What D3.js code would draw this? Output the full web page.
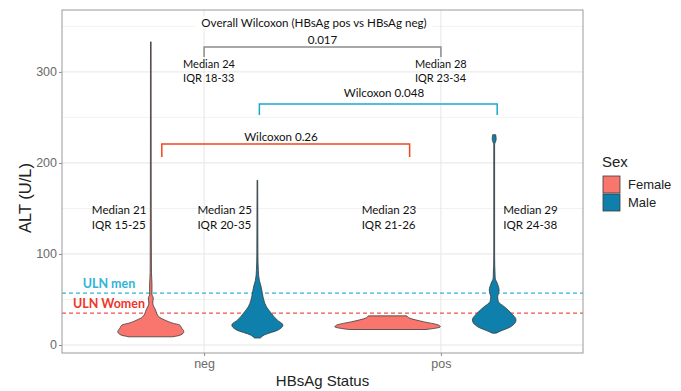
<!DOCTYPE html>
<html><head><meta charset="utf-8">
<script src="https://cdn.jsdelivr.net/npm/d3@7/dist/d3.min.js"></script>
<style>body{margin:0;background:#fff}svg{display:block}</style>
</head><body>
<svg id="c" width="681" height="391"></svg>
<script>
// ---- data ----
const statuses = ["neg", "pos"];
const sexes = ["Female", "Male"];
const yTicks = [0, 100, 200, 300];
const yMinorTicks = [50, 150, 250, 350];
// violin outlines: [ALT value, relative density (1 = full dodge half width)]
const violinFemaleNeg = [[9,0.41],[11,0.56],[14.6,0.62],[18.5,0.58],[22,0.54],[24,0.41],[27.5,0.26],[31,0.15],[38.5,0.088],[46,0.037],[52,0.047],[55,0.022],[67,0.022],[80,0.012],[150,0.008],[333,0.006]];
const violinMaleNeg = [[7.7,0.056],[11,0.13],[16.5,0.39],[22,0.48],[27.5,0.37],[35,0.26],[42,0.17],[49.5,0.12],[57,0.093],[66,0.062],[71,0.037],[82,0.018],[100,0.01],[181,0.006]];
const violinFemalePos = [[17,0.72],[20,0.99],[22,0.95],[25.6,0.67],[29.6,0.41],[32,0.36]];
const violinMalePos = [[13,0.037],[14.6,0.093],[20,0.31],[27.5,0.41],[35,0.32],[42,0.19],[47.6,0.079],[53,0.065],[60,0.093],[68,0.056],[73.6,0.019],[100,0.008],[220,0.008],[226,0.037],[231,0.028]];
const violins = [
  {status:"neg", sex:"Female", pts: violinFemaleNeg},
  {status:"neg", sex:"Male", pts: violinMaleNeg},
  {status:"pos", sex:"Female", pts: violinFemalePos},
  {status:"pos", sex:"Male", pts: violinMalePos}
];
const groupLabels = [
  {status:"neg", sex:"Female", lines:["Median 21","IQR 15-25"]},
  {status:"neg", sex:"Male", lines:["Median 25","IQR 20-35"]},
  {status:"pos", sex:"Female", lines:["Median 23","IQR 21-26"]},
  {status:"pos", sex:"Male", lines:["Median 29","IQR 24-38"]}
];
const overallLabels = [
  {status:"neg", lines:["Median 24","IQR 18-33"]},
  {status:"pos", lines:["Median 28","IQR 23-34"]}
];
const ulnMen = 57, ulnWomen = 35;
const colors = {Female:"#F8766D", Male:"#0F7FAB"};

// ---- layout ----
const svg = d3.select("#c");
const L = 62, R = 583, T = 10, B = 353;
const x = d3.scalePoint().domain(statuses).range([L, R]).padding(0.6);
const y = d3.scaleLinear().domain([-8.8, 368]).range([B, T]);
const dodge = d3.scaleOrdinal().domain(sexes).range([-0.225, 0.225]);
const w = d3.scaleLinear().domain([0, 1]).range([0, x.step() * 0.225]);
const cx = (s, sex) => x(s) + dodge(sex) * x.step();

// grid
const g = svg.append("g");
g.selectAll(".mn").data(yMinorTicks).join("line")
  .attr("x1", L).attr("x2", R).attr("y1", d => y(d)).attr("y2", d => y(d))
  .attr("stroke", "#f2f2f2").attr("stroke-width", 1);
g.selectAll(".mj").data(yTicks).join("line")
  .attr("x1", L).attr("x2", R).attr("y1", d => y(d)).attr("y2", d => y(d))
  .attr("stroke", "#e6e6e6").attr("stroke-width", 1);
g.selectAll(".vx").data(statuses).join("line")
  .attr("x1", d => x(d)).attr("x2", d => x(d)).attr("y1", T).attr("y2", B)
  .attr("stroke", "#e6e6e6").attr("stroke-width", 1);

// axes
const yAxis = svg.append("g").attr("transform", `translate(${L},0)`)
  .call(d3.axisLeft(y).tickValues(yTicks).tickSize(3).tickPadding(2));
const xAxis = svg.append("g").attr("transform", `translate(0,${B})`)
  .call(d3.axisBottom(x).tickSize(3).tickPadding(3));
[yAxis, xAxis].forEach(a => {
  a.select(".domain").remove();
  a.selectAll(".tick line").attr("stroke", "#8a8a8a");
  a.selectAll(".tick text").attr("fill", "#6a6a6a").attr("font-size", 12.5)
    .attr("font-family", "Liberation Sans, Arial, sans-serif");
});

// ULN lines
svg.append("line").attr("x1", L).attr("x2", R).attr("y1", y(ulnMen)).attr("y2", y(ulnMen))
  .attr("stroke", "#2FB5D6").attr("stroke-width", 1.2).attr("stroke-dasharray", "4,3");
svg.append("line").attr("x1", L).attr("x2", R).attr("y1", y(ulnWomen)).attr("y2", y(ulnWomen))
  .attr("stroke", "#F0524A").attr("stroke-width", 1.2).attr("stroke-dasharray", "4,3");

// violins
const area = d3.area().curve(d3.curveMonotoneY);
violins.forEach(v => {
  const c = cx(v.status, v.sex);
  area.y(d => y(d[0])).x0(d => c - w(d[1])).x1(d => c + w(d[1]));
  svg.append("path").attr("d", area(v.pts))
    .attr("fill", colors[v.sex]).attr("stroke", "#3a3a3a").attr("stroke-width", 0.8);
});

// panel border
svg.append("rect").attr("x", L).attr("y", T).attr("width", R - L).attr("height", B - T)
  .attr("fill", "none").attr("stroke", "#9a9a9a").attr("stroke-width", 1);

const ann = "Lato, 'Open Sans', sans-serif";
// ULN labels
svg.append("text").attr("x", 109).attr("y", y(ulnMen) - 5).attr("text-anchor", "middle")
  .attr("font-family", ann).attr("font-weight", "bold").attr("font-size", 12.5).attr("fill", "#2FB5D6").text("ULN men");
svg.append("text").attr("x", 109).attr("y", y(ulnWomen) - 5).attr("text-anchor", "middle")
  .attr("font-family", ann).attr("font-weight", "bold").attr("font-size", 12.5).attr("fill", "#F0352A").text("ULN Women");

// group labels
groupLabels.forEach(gl => {
  const c = cx(gl.status, gl.sex);
  const xx = gl.status === "neg" ? (gl.sex === "Female" ? c - 59 : c - 60) : (gl.sex === "Female" ? c - 26 : c + 9);
  const t = svg.append("text").attr("font-family", ann).attr("font-size", 11.6).attr("fill", "#111");
  gl.lines.forEach((ln, i) => t.append("tspan").attr("x", xx).attr("y", y(150) + 6 + i * 15).text(ln));
});

// overall labels
overallLabels.forEach(ol => {
  const xx = x(ol.status) - (ol.status === "neg" ? 21 : 26);
  const t = svg.append("text").attr("font-family", ann).attr("font-size", 11).attr("fill", "#111");
  ol.lines.forEach((ln, i) => t.append("tspan").attr("x", xx).attr("y", 68 + i * 14).text(ln));
});

// brackets
function bracket(x1, x2, yTop, drop, color, label, lx, ly) {
  svg.append("path").attr("d", `M${x1},${yTop + drop}V${yTop}H${x2}V${yTop + drop}`)
    .attr("fill", "none").attr("stroke", color).attr("stroke-width", 1.5);
  svg.append("text").attr("x", lx).attr("y", ly).attr("text-anchor", "middle")
    .attr("font-family", ann).attr("font-size", 11.6).attr("fill", "#111").text(label);
}
bracket(x("neg"), x("pos"), 47, 10, "#8c8c8c", "0.017", (x("neg") + x("pos")) / 2, 44);
bracket(cx("neg", "Male") + 2, cx("pos", "Male") + 3, 104, 11, "#1BA8CF", "Wilcoxon 0.048", 384, 97);
bracket(cx("neg", "Female") + 11, cx("pos", "Female") + 22, 144, 13, "#F0461E", "Wilcoxon 0.26", 281, 141);

// overall title with white background
const og = svg.append("g");
const orect = og.append("rect").attr("fill", "#fff");
const ot = og.append("text").attr("x", 314).attr("y", 27).attr("text-anchor", "middle")
  .attr("font-family", ann).attr("font-size", 11.6).attr("fill", "#111")
  .text("Overall Wilcoxon (HBsAg pos vs HBsAg neg)");
const bb = ot.node().getBBox();
orect.attr("x", bb.x - 6).attr("y", bb.y).attr("width", bb.width + 12).attr("height", bb.height);

// axis titles
svg.append("text").attr("x", (L + R) / 2).attr("y", 386).attr("text-anchor", "middle")
  .attr("font-family", "Liberation Sans, Arial, sans-serif").attr("font-size", 15).attr("fill", "#222").text("HBsAg Status");
svg.append("text").attr("transform", "translate(31,198) rotate(-90)").attr("text-anchor", "middle")
  .attr("font-family", "Liberation Sans, Arial, sans-serif").attr("font-size", 16.5).attr("fill", "#222").text("ALT (U/L)");

// legend
const lg = svg.append("g").attr("font-family", "Liberation Sans, Arial, sans-serif");
lg.append("text").attr("x", 602).attr("y", 167).attr("font-size", 15).attr("fill", "#222").text("Sex");
sexes.forEach((s, i) => {
  lg.append("rect").attr("x", 603).attr("y", 176 + i * 18).attr("width", 17).attr("height", 17)
    .attr("fill", colors[s]).attr("stroke", "#3a3a3a").attr("stroke-width", 0.8);
  lg.append("text").attr("x", 628).attr("y", 189 + i * 18).attr("font-size", 13).attr("fill", "#222").text(s);
});
</script>
</body></html>
